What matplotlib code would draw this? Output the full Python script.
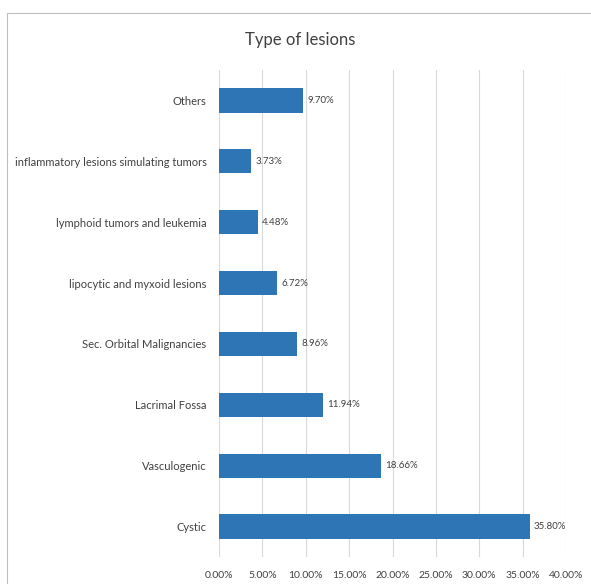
import matplotlib
matplotlib.use("Agg")
import matplotlib.pyplot as plt
from matplotlib.patches import Rectangle

categories = ["Cystic", "Vasculogenic", "Lacrimal Fossa", "Sec. Orbital Malignancies",
              "lipocytic and myxoid lesions", "lymphoid tumors and leukemia",
              "inflammatory lesions simulating tumors", "Others"]
values = [35.80, 18.66, 11.94, 8.96, 6.72, 4.48, 3.73, 9.70]
xticks = [0, 5, 10, 15, 20, 25, 30, 35, 40]
xtick_labels = ["0.00%", "5.00%", "10.00%", "15.00%", "20.00%", "25.00%", "30.00%", "35.00%", "40.00%"]

plt.rcParams['font.family'] = ['Lato', 'DejaVu Sans']

W, H = 591, 584
fig = plt.figure(figsize=(W/100, H/100), dpi=100)
ax = fig.add_axes([219/W, 1-557/H, (566-219)/W, (557-70)/H])

ypos = list(range(len(categories)))
ax.barh(ypos, values, height=0.4, color="#2E75B6", zorder=3)
for y, v in zip(ypos, values):
    ax.text(v + 0.5, y, f"{v:.2f}%", va="center", ha="left", fontsize=7, color="#404040")

ax.set_xlim(0, 40)
ax.set_ylim(-0.5, len(categories) - 0.5)
ax.set_xticks(xticks)
ax.set_xticklabels(xtick_labels, fontsize=7.5, color="#404040")
ax.set_yticks(ypos)
ax.set_yticklabels(categories, fontsize=8, color="#404040")
ax.tick_params(axis="both", length=0)
ax.tick_params(axis="y", pad=9)
ax.tick_params(axis="x", pad=10)
ax.grid(axis="x", color="#d9d9d9", linewidth=0.8, zorder=0)
for s in ax.spines.values():
    s.set_visible(False)

fig.text(300/W, 1-40/H, "Type of lesions", ha="center", va="center", fontsize=12, color="#404040")

fig.patches.append(Rectangle((7/W, -0.05), 1.0, 1-13/H+0.05, transform=fig.transFigure,
                             fill=False, edgecolor="#bfbfbf", linewidth=0.8))

fig.savefig("out.png", dpi=100)
